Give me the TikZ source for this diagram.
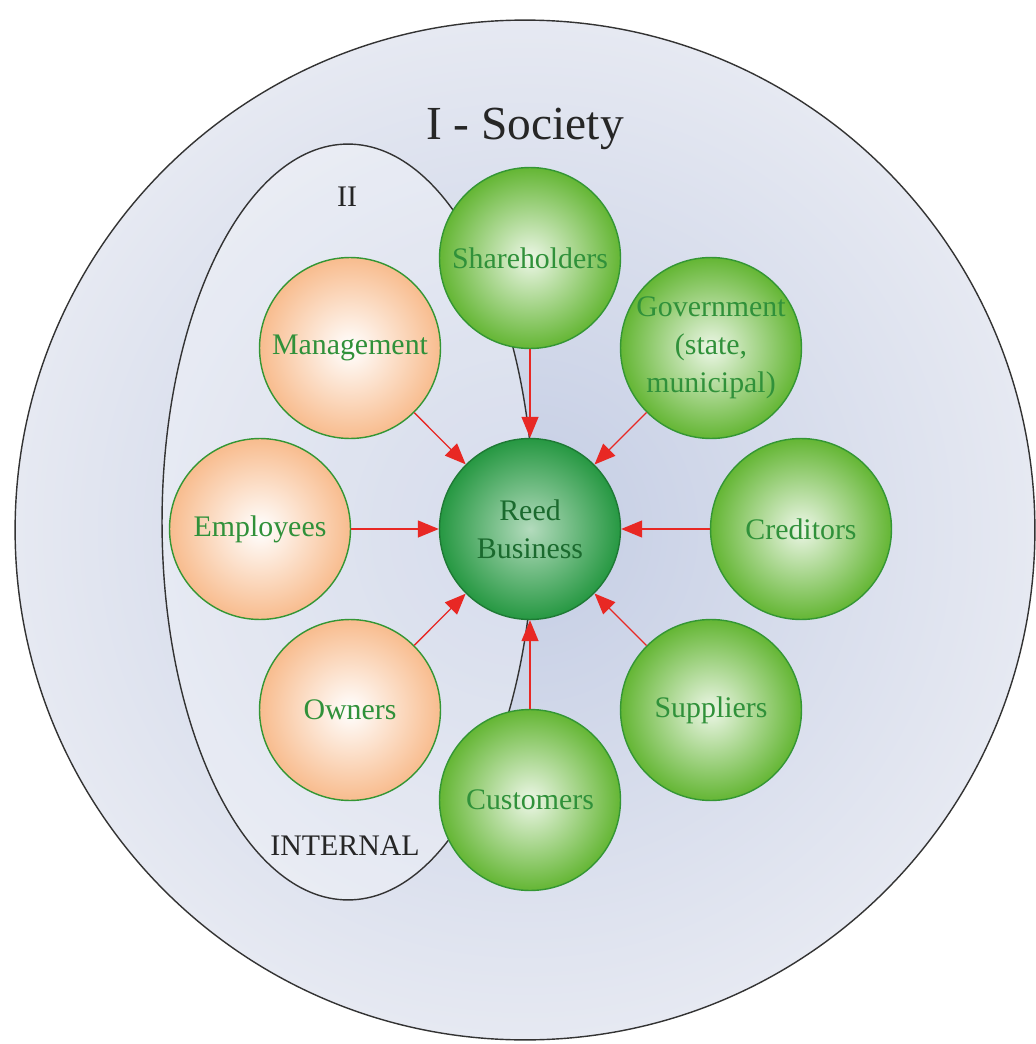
\documentclass[tikz,border=0pt]{standalone}
\usepackage{fontspec}
\setmainfont{Liberation Serif}
\usetikzlibrary{arrows.meta}
\definecolor{bgin}{RGB}{196,205,228}
\definecolor{bgout}{RGB}{230,233,242}
\definecolor{satgreen}{RGB}{100,182,52}
\definecolor{coregreen}{RGB}{38,152,66}
\definecolor{ringgreen}{RGB}{52,150,52}
\definecolor{txtgreen}{RGB}{48,145,58}
\definecolor{peach}{RGB}{248,188,142}
\definecolor{arrred}{RGB}{232,40,36}

\begin{document}
\begin{tikzpicture}[x=0.02cm, y=-0.02cm,
    every path/.style={line width=0.8pt},
    bubble/.style={circle, draw=ringgreen, minimum size=3.62cm, inner sep=0pt, align=center, text=txtgreen, font=\fontsize{17}{21.5}\selectfont},
    sat/.style={bubble, inner color=satgreen!12!white, outer color=satgreen},
    own/.style={bubble, inner color=white, outer color=peach},
    core/.style={bubble, draw=coregreen!80!black, text=coregreen!70!black, inner color=coregreen!35!white, outer color=coregreen},
    lbl/.style={anchor=base, text=black!85, font=\fontsize{17}{21.5}\selectfont},
    ring/.style={draw=black!80, line width=0.8pt},
    arr/.style={draw=arrred, line width=0.75pt, -{Triangle[length=0.42cm, width=0.34cm]}}]

    \useasboundingbox (0,0) rectangle (1035,1044);
    \fill[white] (0,0) rectangle (1035,1044);

    % society and the internal part
    \draw[ring, inner color=bgin, outer color=bgout] (525,530) circle[radius=10.2cm];
    \draw[ring, fill=white, fill opacity=0.3] (348,522) ellipse[x radius=3.72cm, y radius=7.56cm];

    \node[lbl, font=\fontsize{27}{32}\selectfont] (society) at (525,140) {I - Society};
    \node[lbl] (two) at (347,207) {II};
    \node[lbl] (internal) at (345,855) {INTERNAL};

    % business in the middle
    \node[core] (0) at (530,529) {Reed\\Business};

    % stakeholders
    \node[sat] (1) at (530,258) {Shareholders};
    \node[sat] (2) at (711,348) {Government\\(state,\\municipal)};
    \node[sat] (3) at (801,529) {Creditors};
    \node[sat] (4) at (711,710) {Suppliers};
    \node[sat] (5) at (530,800) {Customers};
    \node[own] (6) at (350,710) {Owners};
    \node[own] (7) at (260,529) {Employees};
    \node[own] (8) at (350,348) {Management};

    \draw[arr] (1) -- (0);
    \draw[arr] (2) -- (0);
    \draw[arr] (3) -- (0);
    \draw[arr] (4) -- (0);
    \draw[arr] (5) -- (0);
    \draw[arr] (6) -- (0);
    \draw[arr] (7) -- (0);
    \draw[arr] (8) -- (0);
\end{tikzpicture}
\end{document}
